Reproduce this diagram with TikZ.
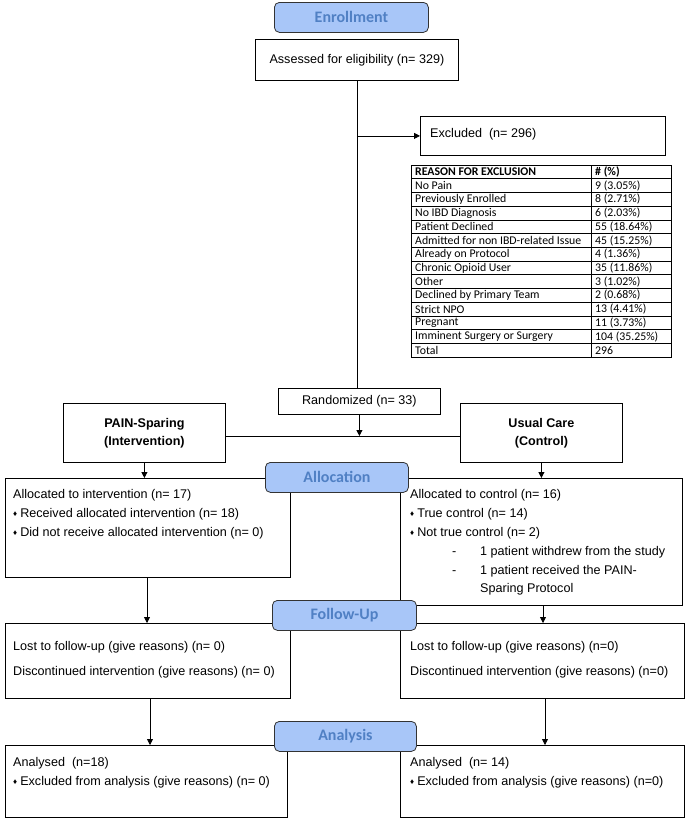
\documentclass[tikz,border=0pt]{standalone}
\usepackage{fontspec}
\setmainfont{Liberation Sans}
\newfontfamily\calfont{Carlito}
\usetikzlibrary{arrows.meta}
\definecolor{hdrfill}{RGB}{168,198,248}
\definecolor{hdrtext}{RGB}{80,128,196}
\newcommand{\bul}{{\fontsize{8}{8}\selectfont\raisebox{0.6pt}{♦}}\hspace{3pt}}
\newcommand{\dsh}{\makebox[28pt][l]{-}}
\begin{document}
\begin{tikzpicture}[x=1pt,y=-1pt,
  box/.style={draw, line width=0.8pt, fill=white, inner sep=0pt, anchor=north west},
  hdr/.style={draw=black!80, line width=0.8pt, rounded corners=5pt, fill=hdrfill, text=hdrtext,
    font=\calfont\bfseries\fontsize{16}{16}\selectfont, inner sep=0pt, anchor=north west},
  txt/.style={anchor=west, inner sep=0pt, font=\fontsize{12.6}{15}\selectfont},
  btxt/.style={inner sep=0pt, align=center, font=\bfseries\fontsize{12.6}{18}\selectfont},
  tab/.style={anchor=west, inner sep=0pt, font=\calfont\fontsize{11.8}{12}\selectfont},
  tabb/.style={tab, font=\calfont\bfseries\fontsize{11.8}{12}\selectfont},
  arr/.style={-{Triangle[length=6pt,width=6pt]}, line width=0.8pt},
  ln/.style={line width=0.8pt}]
\useasboundingbox[fill=white] (0,0) rectangle (685,819);

% ---------- boxes ----------
\node[box, minimum width=203pt, minimum height=41pt] (assess) at (255,39) {};
\node[txt, anchor=center] (assessT) at (assess.center) {Assessed for eligibility (n= 329)};
\node[box, minimum width=245pt, minimum height=39pt] (excl) at (420,116) {};
\node[txt] (exclT) at (430,134) {Excluded\ \ (n= 296)};
\node[box, minimum width=162pt, minimum height=26pt] (rand) at (278,388) {};
\node[txt, anchor=center] (randT) at (rand.center) {Randomized (n= 33)};
\node[box, minimum width=162pt, minimum height=59pt] (pain) at (63,403) {};
\node[btxt] (painT) at (pain.center) {PAIN-Sparing\\(Intervention)};
\node[box, minimum width=162pt, minimum height=59pt] (usual) at (460,403) {};
\node[btxt] (usualT) at (usual.center) {Usual Care\\(Control)};

\node[box, minimum width=285pt, minimum height=99pt] (allocL) at (5,478) {};
\node[box, minimum width=282pt, minimum height=127pt] (allocR) at (400,478) {};
\node[box, minimum width=285pt, minimum height=75pt] (fuL) at (5,623) {};
\node[box, minimum width=284pt, minimum height=75pt] (fuR) at (400,623) {};
\node[box, minimum width=282pt, minimum height=72pt] (anL) at (5,745) {};
\node[box, minimum width=284pt, minimum height=72pt] (anR) at (400,745) {};

% ---------- texts ----------
\node[txt] (aL1) at (13,495) {Allocated to intervention (n= 17)};
\node[txt] (aL2) at (13,514) {\bul Received allocated intervention (n= 18)};
\node[txt] (aL3) at (13,533) {\bul Did not receive allocated intervention (n= 0)};

\node[txt] (aR1) at (410,495) {Allocated to control (n= 16)};
\node[txt] (aR2) at (410,514) {\bul True control (n= 14)};
\node[txt] (aR3) at (410,533) {\bul Not true control (n= 2)};
\node[txt] (aR4) at (452,552) {\dsh 1 patient withdrew from the study};
\node[txt] (aR5) at (452,571) {\dsh 1 patient received the PAIN-};
\node[txt] (aR6) at (480,589) {Sparing Protocol};

\node[txt] (fL1) at (13,647) {Lost to follow-up (give reasons) (n= 0)};
\node[txt] (fL2) at (13,672) {Discontinued intervention (give reasons) (n= 0)};
\node[txt] (fR1) at (410,647) {Lost to follow-up (give reasons) (n=0)};
\node[txt] (fR2) at (410,672) {Discontinued intervention (give reasons) (n=0)};

\node[txt] (nL1) at (13,763) {Analysed\ \ (n=18)};
\node[txt] (nL2) at (13,782) {\bul Excluded from analysis (give reasons) (n= 0)};
\node[txt] (nR1) at (410,763) {Analysed\ \ (n= 14)};
\node[txt] (nR2) at (410,782) {\bul Excluded from analysis (give reasons) (n=0)};

% ---------- table ----------
\draw[line width=0.7pt] (411,165) rectangle (671,357);
\draw[line width=0.7pt] (591,165) -- (591,357);
\foreach \i in {1,...,13} \draw[line width=0.7pt] (411,165+\i*13.714) -- (671,165+\i*13.714);
\node[tabb] (th1) at (415,172) {REASON FOR EXCLUSION};
\node[tabb] (th2) at (595,172) {\# (\%)};
\foreach \i/\a/\b in {1/No Pain/9 (3.05\%),2/Previously Enrolled/8 (2.71\%),3/No IBD Diagnosis/6 (2.03\%),
  4/Patient Declined/55 (18.64\%),5/Admitted for non IBD-related Issue/45 (15.25\%),
  6/Already on Protocol/4 (1.36\%),7/Chronic Opioid User/35 (11.86\%),8/Other/3 (1.02\%),
  9/Declined by Primary Team/2 (0.68\%),10/Strict NPO/13 (4.41\%),11/Pregnant/11 (3.73\%),
  12/Imminent Surgery or Surgery/104 (35.25\%),13/Total/296}
{
  \node[tab] (tr\i a) at (415,172+\i*13.714) {\a};
  \node[tab] (tr\i b) at (595,172+\i*13.714) {\b};
}

% ---------- connectors ----------
\draw[ln] (assess.south) -- (assess.south |- rand.north);
\coordinate (brA) at (assess.south |- excl.west);
\draw[arr] (brA) -- (excl.west);
\coordinate (jn) at (rand.south |- 0,436);
\draw[ln] (pain.east |- jn) -- (usual.west |- jn);
\draw[arr] (rand.south) -- (jn);
\draw[arr] (pain.south) -- (pain.south |- allocL.north);
\draw[arr] (usual.south) -- (usual.south |- allocR.north);
\draw[arr] (147,577) -- (147,623);
\draw[arr] (543,605) -- (543,623);
\draw[arr] (150,698) -- (150,745);
\draw[arr] (545,698) -- (545,745);

% ---------- headers ----------
\node[hdr, minimum width=154pt, minimum height=30pt] (enroll) at (274,2) {Enrollment};
\node[hdr, minimum width=143pt, minimum height=30pt] (alloc) at (265,462) {Allocation};
\node[hdr, minimum width=144pt, minimum height=30pt] (fu) at (272,600) {Follow-Up};
\node[hdr, minimum width=142pt, minimum height=30pt] (an) at (274,721) {Analysis};
\end{tikzpicture}
\end{document}
